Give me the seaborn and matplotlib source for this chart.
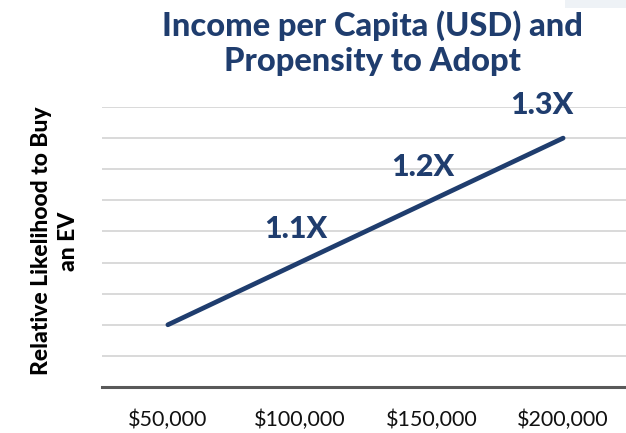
import matplotlib
matplotlib.use("Agg")
import matplotlib.pyplot as plt
import matplotlib.patches as mpatches
import seaborn as sns
import pandas as pd

# Income per capita brackets and the relative likelihood of buying an EV
income = [50000, 100000, 150000, 200000]
likelihood = [1.0, 1.1, 1.2, 1.3]
value_labels = ["", "1.1X", "1.2X", "1.3X"]
tick_labels = [f"${v:,.0f}" for v in income]

title = "Income per Capita (USD) and\nPropensity to Adopt"
ylabel = "Relative Likelihood to Buy\nan EV"

NAVY = "#1F3D6E"
GRID = "#D9D9D9"
AXIS = "#595959"

sns.set_theme(style="white")
plt.rcParams["font.family"] = ["Lato", "DejaVu Sans"]

df = pd.DataFrame({"income": tick_labels, "likelihood": likelihood})

fig = plt.figure(figsize=(6.26, 4.33), dpi=100)
W, H = 626, 433
ax = fig.add_axes([102 / W, 46 / H, 527 / W, 280 / H])

sns.lineplot(data=df, x="income", y="likelihood", sort=False,
             color=NAVY, linewidth=3.4, ax=ax, zorder=3)
for line in ax.lines:
    line.set_solid_capstyle("round")

ax.set_xlim(-0.5, len(income) - 0.5)
ax.set_ylim(0.9, 1.35)
ax.set_yticks([0.9 + 0.05 * i for i in range(1, 10)])
ax.yaxis.grid(True, color=GRID, linewidth=1.4)
ax.xaxis.grid(False)
ax.set_yticklabels([])
ax.tick_params(axis="y", length=0)
ax.set_xticks(range(len(income)))
ax.set_xticklabels(tick_labels, fontsize=15.5, color="#111111")
ax.tick_params(axis="x", length=0, pad=16)
ax.set_xlabel("")
ax.set_ylabel("")

for s in ["top", "right", "left"]:
    ax.spines[s].set_visible(False)
ax.spines["bottom"].set_color(AXIS)
ax.spines["bottom"].set_linewidth(2.2)
ax.spines["bottom"].set_zorder(4)

# value labels sitting above the points
dx = [0, -4, -9, -21]
for i, (v, lab) in enumerate(zip(likelihood, value_labels)):
    if lab:
        ax.annotate(lab, (i, v), xytext=(dx[i] * 0.72, 24),
                    textcoords="offset points", ha="center", va="center",
                    fontsize=22, fontweight="black", color=NAVY,
                    annotation_clip=False)

fig.text(372 / W, 1 - 43 / H, title, ha="center", va="center",
         fontsize=23.5, fontweight="black", color=NAVY, linespacing=1.22)
fig.text(55 / W, 1 - 241 / H, ylabel, rotation=90, ha="center",
         va="center", multialignment="center", fontsize=16.5,
         fontweight="black", color="black", linespacing=1.4)

# faint panel edge in the top-right corner
fig.patches.append(mpatches.Rectangle((565 / W, 1 - 8 / H), 61 / W, 8 / H,
                                      transform=fig.transFigure,
                                      facecolor="#EEF2F6", edgecolor="none"))

fig.savefig("out.png", dpi=100)
